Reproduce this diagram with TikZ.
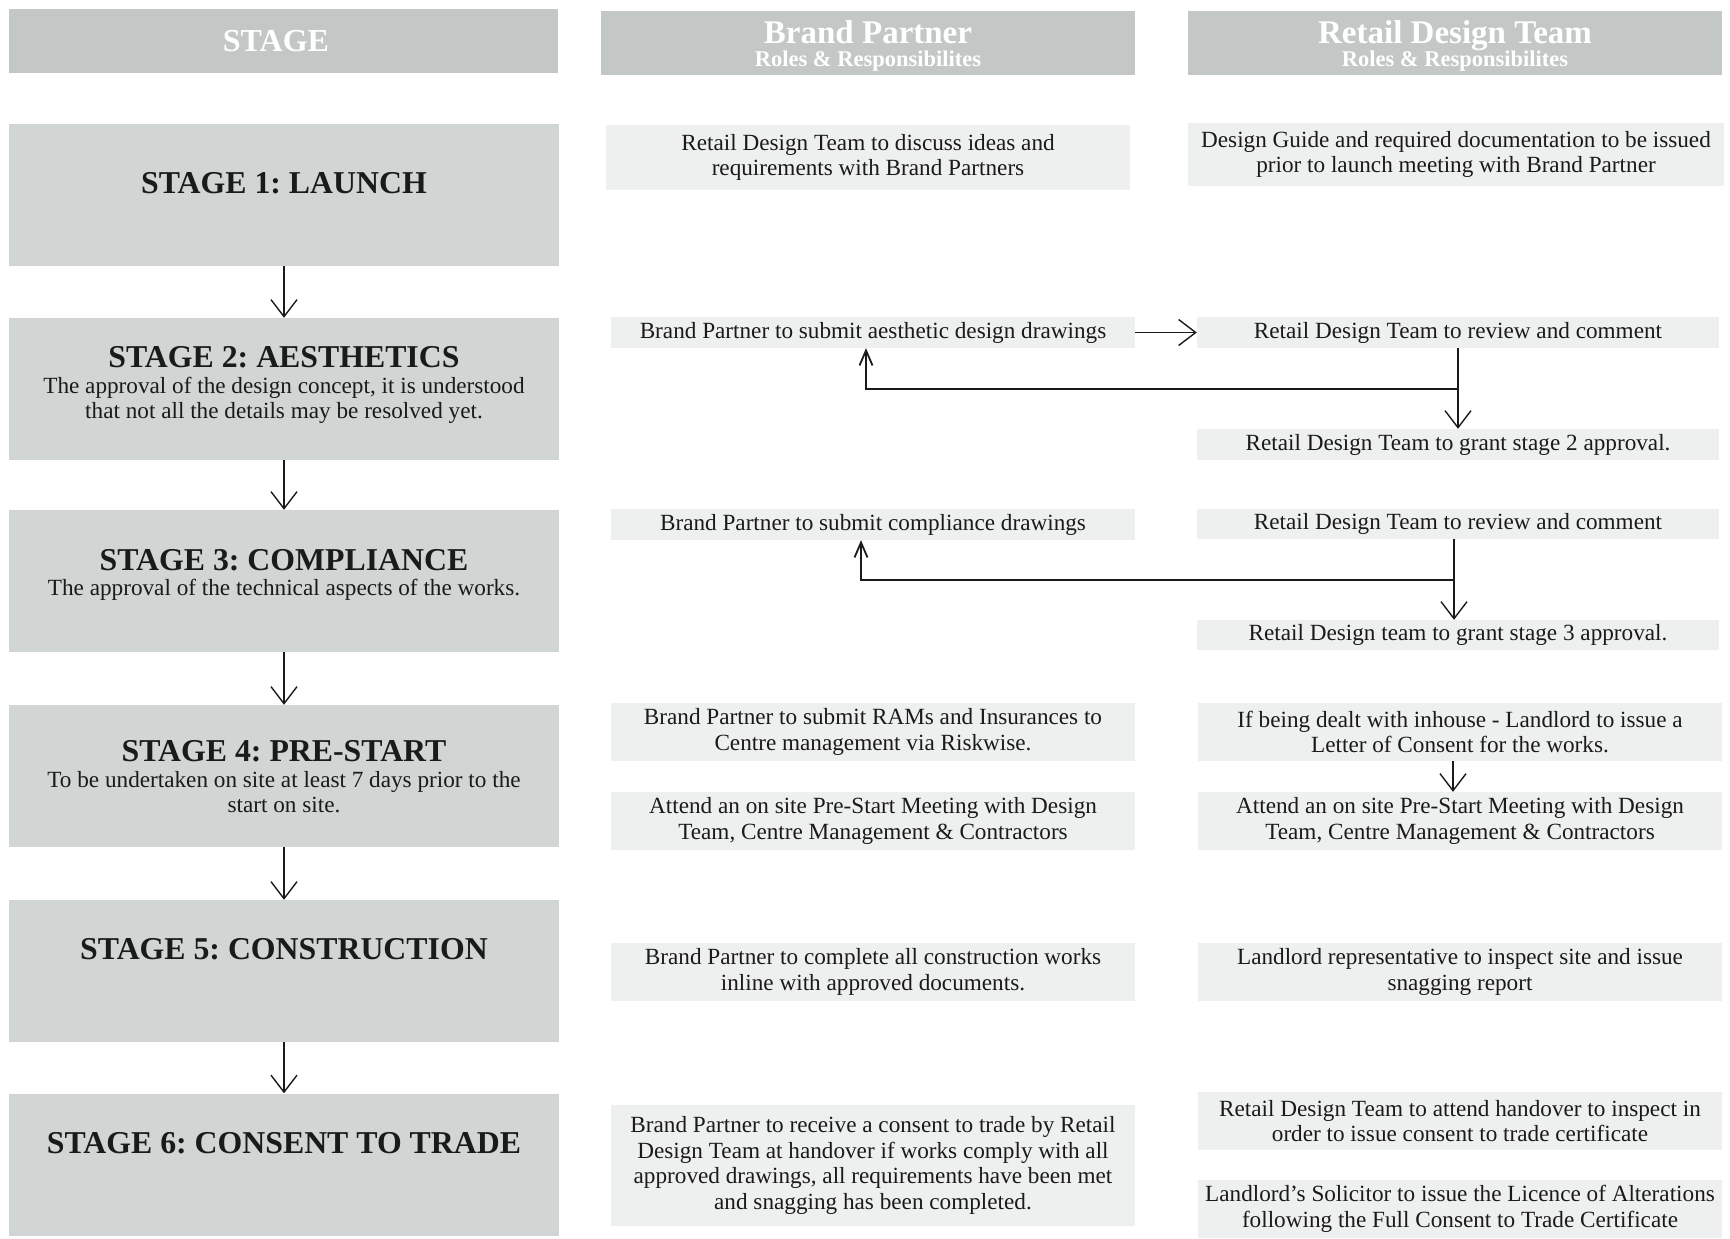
\documentclass[tikz,border=0pt]{standalone}
\usepackage{fontspec}
\setmainfont{Liberation Serif}
\usetikzlibrary{arrows.meta}
\definecolor{headgray}{HTML}{C3C8C6}
\definecolor{stagegray}{HTML}{D1D5D4}
\definecolor{taskgray}{HTML}{EEF0EF}
\definecolor{ink}{HTML}{1A1A1A}
\frenchspacing
\newcommand{\bodysize}{\fontsize{23.2}{25.4}\selectfont}
\newcommand{\titlesize}{\fontsize{31.8}{31.8}\selectfont\bfseries}
\begin{document}
\begin{tikzpicture}[x=1pt,y=-1pt,
  head/.style={fill=headgray,inner sep=0pt,minimum height=64pt},
  headtext/.style={text=white,inner sep=0pt,align=center,font=\bfseries\fontsize{22.5}{23.5}\selectfont},
  stagebox/.style={fill=stagegray,inner sep=0pt,minimum width=550pt,minimum height=142pt},
  stagetext/.style={align=center,text=ink,inner sep=0pt,font=\bodysize},
  task/.style={fill=taskgray,inner sep=0pt,align=center,text=ink,font=\bodysize,minimum width=524pt},
  flow/.style={-{Straight Barb[length=17pt,width=26pt]},line width=1.4pt,ink},
  back/.style={-{Straight Barb[length=15pt,width=13pt]},line width=1.8pt,ink}]
\useasboundingbox (0,0) rectangle (1730,1239);
% Headers
\node[head,minimum width=549pt] (hs) at (283.5,41) {};
\node[head,minimum width=534pt] (hb) at (868,43) {};
\node[head,minimum width=534pt] (hr) at (1455,43) {};
\node[headtext,font=\bfseries\fontsize{32}{32}\selectfont] (hst) at (276,41) {STAGE};
\node[headtext] (hbt) at (868,46) {{\fontsize{33}{33}\selectfont Brand Partner}\\Roles \& Responsibilites};
\node[headtext] (hrt) at (1455,46) {{\fontsize{33}{33}\selectfont Retail Design Team}\\Roles \& Responsibilites};
% Stages
\node[stagebox] (s1) at (284,195) {};
\node[stagebox] (s2) at (284,389) {};
\node[stagebox] (s3) at (284,581) {};
\node[stagebox] (s4) at (284,776) {};
\node[stagebox] (s5) at (284,971) {};
\node[stagebox] (s6) at (284,1164.5) {};
\node[stagetext] (s1t) at (284,183) {{\titlesize STAGE 1: LAUNCH}};
\node[stagetext] (s2t) at (284,385) {{\titlesize STAGE 2: AESTHETICS}\\The approval of the design concept, it is understood\\that not all the details may be resolved yet.};
\node[stagetext] (s3t) at (284,575) {{\titlesize STAGE 3: COMPLIANCE}\\The approval of the technical aspects of the works.};
\node[stagetext] (s4t) at (284,777) {{\titlesize STAGE 4: PRE-START}\\To be undertaken on site at least 7 days prior to the\\start on site.};
\node[stagetext] (s5t) at (284,949) {{\titlesize STAGE 5: CONSTRUCTION}};
\node[stagetext] (s6t) at (284,1143) {{\titlesize STAGE 6: CONSENT TO TRADE}};
\foreach \a/\b in {s1/s2,s2/s3,s3/s4,s4/s5,s5/s6}
  \draw[flow] (\a.south) -- (\b.north);
% Stage 1
\node[task,minimum height=65pt] (b1) at (868,157.5) {Retail Design Team to discuss ideas and\\requirements with Brand Partners};
\node[task,minimum width=536pt,minimum height=63pt] (r1) at (1456,154.5) {Design Guide and required documentation to be issued\\prior to launch meeting with Brand Partner};
% Stage 2
\node[task,minimum height=31pt] (b2) at (873,332.5) {Brand Partner to submit aesthetic design drawings};
\node[task,minimum width=522pt,minimum height=31pt] (r2) at (1458,332.5) {Retail Design Team to review and comment};
\node[task,minimum width=522pt,minimum height=31pt] (g2) at (1458,444.5) {Retail Design Team to grant stage 2 approval.};
\draw[flow] (b2.east) -- (r2.west);
\draw[flow] (r2.south) -- (g2.north);
\coordinate (j2) at (1458,389);
\draw[back] (j2) -| ([xshift=-7pt]b2.south);
% Stage 3
\node[task,minimum height=31pt] (b3) at (873,524.5) {Brand Partner to submit compliance drawings};
\node[task,minimum width=522pt,minimum height=30pt] (r3) at (1458,524) {Retail Design Team to review and comment};
\node[task,minimum width=522pt,minimum height=30pt] (g3) at (1458,635) {Retail Design team to grant stage 3 approval.};
\draw[flow] ([xshift=-4pt]r3.south) -- ([xshift=-4pt]g3.north);
\coordinate (j3) at (1454,580);
\draw[back] (j3) -| ([xshift=-12pt]b3.south);
% Stage 4
\node[task,minimum height=58pt] (b4) at (873,732) {Brand Partner to submit RAMs and Insurances to\\Centre management via Riskwise.};
\node[task,minimum height=58pt] (r4) at (1460,732) {If being dealt with inhouse - Landlord to issue a\\Letter of Consent for the works.};
\node[task,minimum height=58pt] (m4) at (873,821) {Attend an on site Pre-Start Meeting with Design\\Team, Centre Management \& Contractors};
\node[task,minimum height=58pt] (n4) at (1460,821) {Attend an on site Pre-Start Meeting with Design\\Team, Centre Management \& Contractors};
\draw[flow] ([xshift=-7pt]r4.south) -- ([xshift=-7pt]n4.north);
% Stage 5
\node[task,minimum height=58pt] (b5) at (873,972) {Brand Partner to complete all construction works\\inline with approved documents.};
\node[task,minimum height=58pt] (r5) at (1460,972) {Landlord representative to inspect site and issue\\snagging report};
% Stage 6
\node[task,minimum height=121pt] (b6) at (873,1165.5) {Brand Partner to receive a consent to trade by Retail\\Design Team at handover if works comply with all\\approved drawings, all requirements have been met\\and snagging has been completed.};
\node[task,minimum height=58pt] (r6) at (1460,1121) {Retail Design Team to attend handover to inspect in\\order to issue consent to trade certificate};
\node[task,minimum height=58pt] (l6) at (1460,1209) {Landlord’s Solicitor to issue the Licence of Alterations\\following the Full Consent to Trade Certificate};
\end{tikzpicture}
\end{document}
